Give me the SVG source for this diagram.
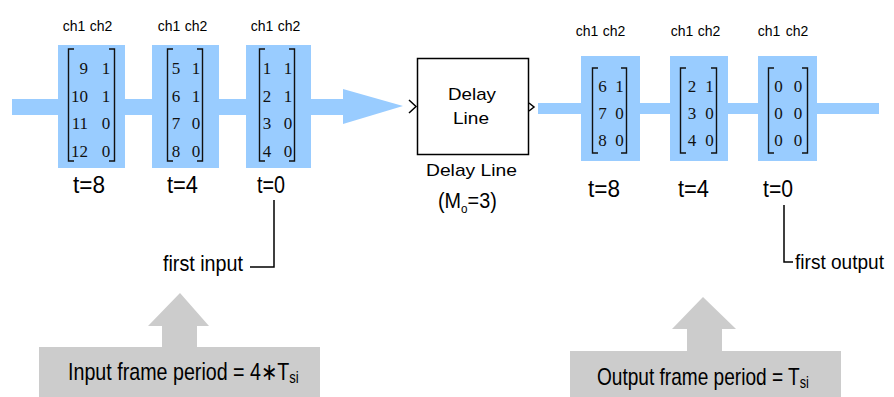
<svg xmlns="http://www.w3.org/2000/svg" width="894" height="397" viewBox="0 0 894 397">
<style>
.blue{fill:#99ccff}
.gray{fill:#cccccc}
.lbl{font-family:"Liberation Sans",Arial,sans-serif;fill:#000}
.t{font-family:"Liberation Sans",Arial,sans-serif;font-size:24px;fill:#000}
.ch{font-family:"Liberation Sans",Arial,sans-serif;font-size:14px;fill:#000;text-anchor:middle}
.num{font-family:"Liberation Serif","Times New Roman",serif;font-size:17px;fill:#111}
.brk{fill:none;stroke:#111;stroke-width:1.4}
.ln{fill:none;stroke:#000;stroke-width:1.5}
</style>
<rect width="894" height="397" fill="#ffffff"/>

<g id="connectors">
  <rect class="blue" x="12" y="99" width="331" height="16"/>
  <polygon class="blue" points="343,89 403,106 343,124"/>
  <rect class="blue" x="538" y="103" width="341" height="11"/>
  <polyline class="ln" points="250,267 274,267 274,200"/>
  <polyline class="ln" points="784,205 784,262 793,262"/>
</g>

<g id="in-frame-t8">
  <rect class="blue" x="58" y="45" width="67" height="123"/>
  <path class="brk" d="M74,49 H68.5 V161 H74 M109,49 H114.5 V161 H109"/>
  <text class="num" text-anchor="end" x="88" y="74">9</text>
  <text class="num" text-anchor="end" x="88" y="102">10</text>
  <text class="num" text-anchor="end" x="88" y="129">11</text>
  <text class="num" text-anchor="end" x="88" y="157">12</text>
  <text class="num" text-anchor="middle" x="106" y="74">1</text>
  <text class="num" text-anchor="middle" x="106" y="102">1</text>
  <text class="num" text-anchor="middle" x="106" y="129">0</text>
  <text class="num" text-anchor="middle" x="106" y="157">0</text>
  <text class="ch" x="74" y="31">ch1</text>
  <text class="ch" x="101" y="31">ch2</text>
  <text class="t" x="73" y="193" textLength="32" lengthAdjust="spacingAndGlyphs">t=8</text>
</g>

<g id="in-frame-t4">
  <rect class="blue" x="152" y="45" width="67" height="123"/>
  <path class="brk" d="M173,49 H167.5 V161 H173 M197,49 H202.5 V161 H197"/>
  <text class="num" text-anchor="middle" x="176" y="74">5</text>
  <text class="num" text-anchor="middle" x="176" y="102">6</text>
  <text class="num" text-anchor="middle" x="176" y="129">7</text>
  <text class="num" text-anchor="middle" x="176" y="157">8</text>
  <text class="num" text-anchor="middle" x="196" y="74">1</text>
  <text class="num" text-anchor="middle" x="196" y="102">1</text>
  <text class="num" text-anchor="middle" x="196" y="129">0</text>
  <text class="num" text-anchor="middle" x="196" y="157">0</text>
  <text class="ch" x="169" y="31">ch1</text>
  <text class="ch" x="196" y="31">ch2</text>
  <text class="t" x="167" y="193" textLength="31" lengthAdjust="spacingAndGlyphs">t=4</text>
</g>

<g id="in-frame-t0">
  <rect class="blue" x="246" y="45" width="65" height="123"/>
  <path class="brk" d="M265,49 H259.5 V161 H265 M289,49 H294.5 V161 H289"/>
  <text class="num" text-anchor="middle" x="267" y="74">1</text>
  <text class="num" text-anchor="middle" x="267" y="102">2</text>
  <text class="num" text-anchor="middle" x="267" y="129">3</text>
  <text class="num" text-anchor="middle" x="267" y="157">4</text>
  <text class="num" text-anchor="middle" x="288" y="74">1</text>
  <text class="num" text-anchor="middle" x="288" y="102">1</text>
  <text class="num" text-anchor="middle" x="288" y="129">0</text>
  <text class="num" text-anchor="middle" x="288" y="157">0</text>
  <text class="ch" x="262" y="31">ch1</text>
  <text class="ch" x="289" y="31">ch2</text>
  <text class="t" x="257" y="193" textLength="28" lengthAdjust="spacingAndGlyphs">t=0</text>
</g>

<g id="delay-line">
  <rect x="417.5" y="58.5" width="111" height="96" fill="#ffffff" stroke="#000" stroke-width="1.5"/>
  <polyline class="ln" stroke-width="1.2" points="409,100 416,106.5 409,113"/>
  <polyline class="ln" stroke-width="1.2" points="529,103 534,107 529,111"/>
  <text class="lbl" font-size="17" text-anchor="middle" x="472" y="100" textLength="48" lengthAdjust="spacingAndGlyphs">Delay</text>
  <text class="lbl" font-size="17" text-anchor="middle" x="471" y="124" textLength="36" lengthAdjust="spacingAndGlyphs">Line</text>
  <text class="lbl" font-size="17" text-anchor="middle" x="471.5" y="176" textLength="91" lengthAdjust="spacingAndGlyphs">Delay Line</text>
  <text class="lbl" font-size="22" transform="translate(438,208) scale(0.9,1)">(M<tspan font-size="13" dy="5">o</tspan><tspan dy="-5">=3)</tspan></text>
</g>

<g id="out-frame-t8">
  <rect class="blue" x="581" y="56" width="59" height="105"/>
  <path class="brk" d="M598,68 H592.5 V153 H598 M621,68 H626.5 V153 H621"/>
  <text class="num" text-anchor="middle" x="602.5" y="92">6</text>
  <text class="num" text-anchor="middle" x="602.5" y="119">7</text>
  <text class="num" text-anchor="middle" x="602.5" y="146">8</text>
  <text class="num" text-anchor="middle" x="619.5" y="92">1</text>
  <text class="num" text-anchor="middle" x="619.5" y="119">0</text>
  <text class="num" text-anchor="middle" x="619.5" y="146">0</text>
  <text class="ch" x="587" y="36">ch1</text>
  <text class="ch" x="614" y="36">ch2</text>
  <text class="t" x="588" y="197" textLength="32" lengthAdjust="spacingAndGlyphs">t=8</text>
</g>

<g id="out-frame-t4">
  <rect class="blue" x="670" y="56" width="58" height="105"/>
  <path class="brk" d="M686,68 H680.5 V153 H686 M711,68 H716.5 V153 H711"/>
  <text class="num" text-anchor="middle" x="692" y="92">2</text>
  <text class="num" text-anchor="middle" x="692" y="119">3</text>
  <text class="num" text-anchor="middle" x="692" y="146">4</text>
  <text class="num" text-anchor="middle" x="709.5" y="92">1</text>
  <text class="num" text-anchor="middle" x="709.5" y="119">0</text>
  <text class="num" text-anchor="middle" x="709.5" y="146">0</text>
  <text class="ch" x="682" y="36">ch1</text>
  <text class="ch" x="709" y="36">ch2</text>
  <text class="t" x="678" y="197" textLength="31" lengthAdjust="spacingAndGlyphs">t=4</text>
</g>

<g id="out-frame-t0">
  <rect class="blue" x="758" y="56" width="59" height="105"/>
  <path class="brk" d="M774,68 H768.5 V153 H774 M802,68 H807.5 V153 H802"/>
  <text class="num" text-anchor="middle" x="778.5" y="92">0</text>
  <text class="num" text-anchor="middle" x="778.5" y="119">0</text>
  <text class="num" text-anchor="middle" x="778.5" y="146">0</text>
  <text class="num" text-anchor="middle" x="798" y="92">0</text>
  <text class="num" text-anchor="middle" x="798" y="119">0</text>
  <text class="num" text-anchor="middle" x="798" y="146">0</text>
  <text class="ch" x="769" y="36">ch1</text>
  <text class="ch" x="797" y="36">ch2</text>
  <text class="t" x="763" y="197" textLength="30" lengthAdjust="spacingAndGlyphs">t=0</text>
</g>

<g id="first-input">
  <text class="lbl" font-size="22" x="163" y="271" textLength="80" lengthAdjust="spacingAndGlyphs">first input</text>
</g>

<g id="first-output">
  <text class="lbl" font-size="21" x="795" y="269" textLength="89" lengthAdjust="spacingAndGlyphs">first output</text>
</g>

<g id="input-period">
  <polygon class="gray" points="180,293 209,326 197,326 197,348 162,348 162,326 148,326"/>
  <rect class="gray" x="39" y="347" width="281" height="50"/>
  <text class="lbl" font-size="24" transform="translate(68,380) scale(0.82,1)">Input frame period = 4∗T<tspan font-size="16" dy="3">si</tspan></text>
</g>

<g id="output-period">
  <polygon class="gray" points="703,297 736,329 722,329 722,352 687,352 687,329 672,329"/>
  <rect class="gray" x="570" y="351" width="271" height="46"/>
  <text class="lbl" font-size="24" transform="translate(597,385) scale(0.795,1)">Output frame period = T<tspan font-size="16" dy="3">si</tspan></text>
</g>
</svg>
